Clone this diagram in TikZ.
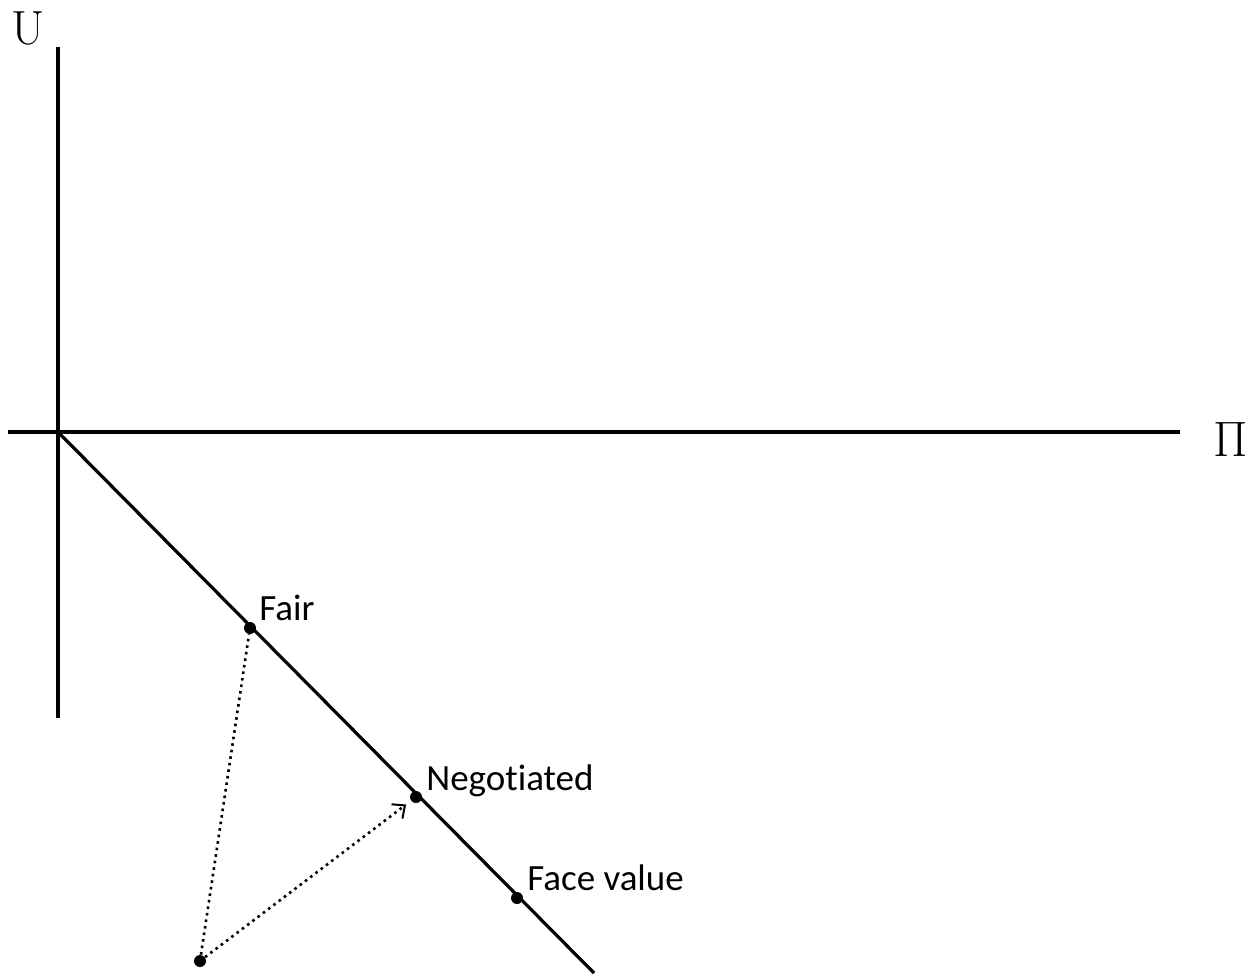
\documentclass[tikz,border=0pt]{standalone}
\usepackage{fontspec}
\newfontfamily\lblfont[Ligatures=NoCommon]{Carlito}
\usetikzlibrary{calc,arrows.meta}

\tikzset{
  axis/.style={line width=2pt},
  budget/.style={line width=1.6pt},
  guide/.style={line width=1.3pt, dotted},
  dot/.style={circle, fill=black, inner sep=0pt, minimum size=6pt},
  lbl/.style={anchor=base west, inner sep=0pt, font=\lblfont\fontsize{18.5}{21}\selectfont},
}

\begin{document}
\begin{tikzpicture}[x=0.5pt, y=-0.5pt]
    \useasboundingbox (0,0) rectangle (1258,979);
    % axes
    \coordinate (ytop) at (58,47);
    \coordinate (ybot) at (58,718);
    \coordinate (xleft) at (8,432);
    \coordinate (xright) at (1180,432);
    \coordinate (origin) at (58,432);
    \coordinate (lineend) at (594,973);
    \draw[axis] (ytop) -- (ybot);
    \draw[axis] (xleft) -- (xright);
    \node[font=\fontsize{24}{26}\selectfont, inner sep=0pt] (ulabel) at (28,28) {U};
    \node[font=\fontsize{27}{29}\selectfont, inner sep=0pt] (pilabel) at (1231,439) {$\Pi$};
    % the line and its points
    \draw[budget] (origin) -- (lineend);
    \node[dot] (fair) at (250,628) {};
    \node[dot] (nego) at (416,797) {};
    \node[dot] (face) at (517,898) {};
    \node[dot] (start) at (200,961) {};
    \node[lbl] (fairlbl) at ($(fair)+(9,-8)$) {Fair};
    \node[lbl] (negolbl) at ($(nego)+(10,-7)$) {Negotiated};
    \node[lbl] (facelbl) at ($(face)+(10,-8)$) {Face value};
    % moves
    \draw[guide] (start) -- (fair);
    \draw[guide, -{Straight Barb[length=5pt, width=9pt, line width=1pt]}, shorten >=3pt] (start) -- (nego);
\end{tikzpicture}
\end{document}
